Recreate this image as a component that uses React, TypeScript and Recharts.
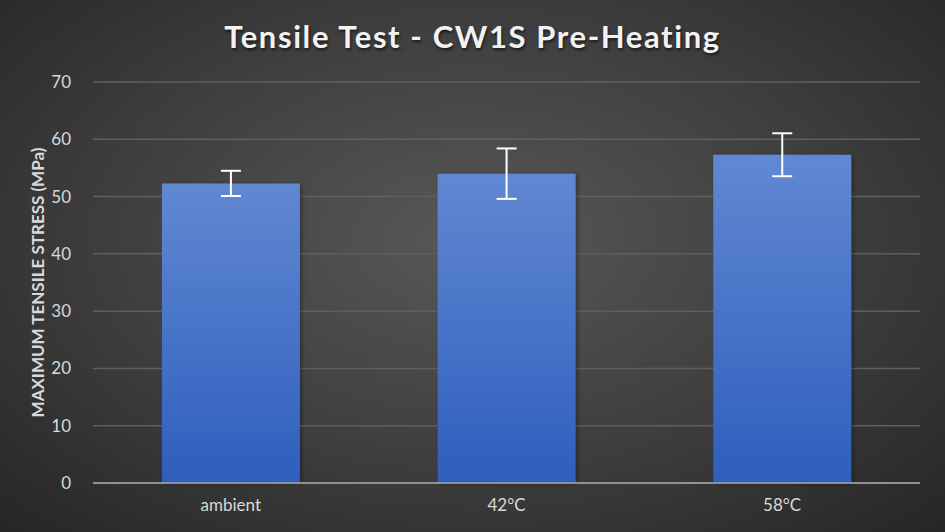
import { Bar, BarChart, CartesianGrid, ErrorBar, XAxis, YAxis } from "recharts";

const categories = ["ambient", "42°C", "58°C"];
const stressMeans = [52.3, 54.0, 57.3];
const stressErrors = [2.2, 4.4, 3.75];
const yTicks = [0, 10, 20, 30, 40, 50, 60, 70];

const data = categories.map((name, i) => ({
  name,
  stress: stressMeans[i],
  err: stressErrors[i],
}));

const tickStyle = { fill: "#d9d9d9", fontSize: 17, fontFamily: "Lato" };

export default function App() {
  return (
    <div
      style={{
        position: "absolute",
        left: 0,
        top: 0,
        width: 945,
        height: 532,
        background: "radial-gradient(ellipse 70% 75% at 50% 45%, #585858 0%, #3e3e3e 55%, #272727 100%)",
        overflow: "hidden",
      }}
    >
      <div
        style={{
          position: "absolute",
          top: 17,
          left: 0,
          width: 945,
          textAlign: "center",
          color: "#f2f2f2",
          fontFamily: "Lato",
          fontWeight: 700,
          fontSize: 31,
          letterSpacing: 1.6,
          textShadow: "1px 2px 3px rgba(0,0,0,0.6)",
        }}
      >
        Tensile Test - CW1S Pre-Heating
      </div>
      <BarChart
        width={945}
        height={532}
        data={data}
        margin={{ top: 82, right: 25, bottom: 19, left: 0 }}
        barCategoryGap="25%"
      >
        <defs>
          <linearGradient id="barFill" x1="0" y1="0" x2="0" y2="1">
            <stop offset="0%" stopColor="#6188d2" />
            <stop offset="100%" stopColor="#2e5ebd" />
          </linearGradient>
          <filter id="barShadow" x="-10%" y="-10%" width="120%" height="120%">
            <feDropShadow dx="2" dy="1" stdDeviation="2" floodColor="#000" floodOpacity="0.35" />
          </filter>
        </defs>
        <CartesianGrid vertical={false} stroke="#5f5f5f" strokeWidth={1.5} />
        <XAxis
          dataKey="name"
          height={30}
          tick={tickStyle}
          tickLine={false}
          axisLine={{ stroke: "#a6a6a6", strokeWidth: 1.5 }}
          tickMargin={10}
        />
        <YAxis
          domain={[0, 70]}
          ticks={yTicks}
          width={93}
          tick={tickStyle}
          tickLine={false}
          axisLine={false}
          tickMargin={16}
          label={{
            value: "MAXIMUM TENSILE STRESS (MPa)",
            angle: -90,
            position: "insideLeft",
            offset: 38,
            style: { fill: "#d9d9d9", fontSize: 17, fontWeight: 700, fontFamily: "Lato", textAnchor: "middle" },
          }}
        />
        <Bar dataKey="stress" fill="url(#barFill)" filter="url(#barShadow)" isAnimationActive={false}>
          <ErrorBar dataKey="err" direction="y" width={10} stroke="#ffffff" strokeWidth={2} isAnimationActive={false} />
        </Bar>
      </BarChart>
    </div>
  );
}
